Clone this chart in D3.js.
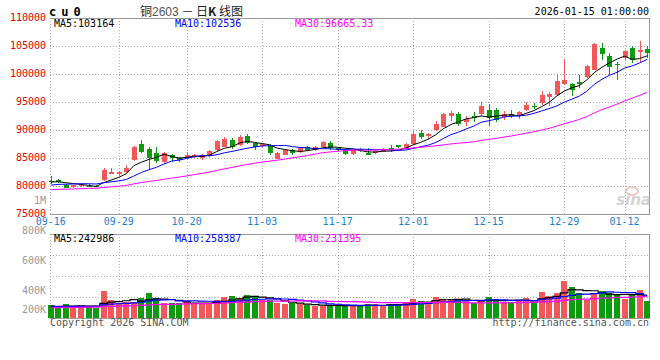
<!DOCTYPE html>
<html>
<head>
<meta charset="utf-8">
<script src="https://cdn.jsdelivr.net/npm/d3@7"></script>
<style>
  body { margin: 0; background: #fff; }
  svg { display: block; }
  text { font-family: 'DejaVu Sans Mono', monospace; font-size: 10px; }
</style>
</head>
<body>
<div id="chart"></div>
<script>
// trading days shown on the chart (MM-DD)
const dates = [
  '09-16', '09-17', '09-18', '09-19', '09-22', '09-23', '09-24', '09-25', '09-26', '09-29',
  '09-30', '10-09', '10-10', '10-13', '10-14', '10-15', '10-16', '10-17', '10-20', '10-21',
  '10-22', '10-23', '10-24', '10-27', '10-28', '10-29', '10-30', '10-31', '11-03', '11-04',
  '11-05', '11-06', '11-07', '11-10', '11-11', '11-12', '11-13', '11-14', '11-17', '11-18',
  '11-19', '11-20', '11-21', '11-24', '11-25', '11-26', '11-27', '11-28', '12-01', '12-02',
  '12-03', '12-04', '12-05', '12-08', '12-09', '12-10', '12-11', '12-12', '12-15', '12-16',
  '12-17', '12-18', '12-19', '12-22', '12-23', '12-24', '12-25', '12-26', '12-29', '12-30',
  '12-31', '01-05', '01-06', '01-07', '01-08', '01-09', '01-12', '01-13', '01-14', '01-15'
];

const opens = [
  80850, 81130, 80180, 79820, 80000, 80050, 80050, 81010, 82200, 82200,
  82440, 84580, 87560, 86660, 85950, 84280, 85590, 84950, 85000, 85180,
  84940, 85300, 86490, 86960, 88270, 87260, 88980, 87680, 87200, 87380,
  84880, 85590, 86490, 86070, 86960, 86370, 86900, 87680, 86840, 86490,
  85650, 86610, 85950, 85950, 86130, 86840, 87320, 86730, 87440, 89520,
  88930, 90000, 90590, 92500, 92790, 91370, 92500, 92910, 93570, 93570,
  92320, 92790, 92740, 93510, 94290, 94820, 95950, 96310, 98210, 98210,
  98570, 99400, 100770, 104640, 103150, 101780, 102850, 104640, 103930, 104520
];
const highs = [
  81700, 81300, 80300, 80200, 80300, 80350, 80200, 83150, 83270, 82600,
  83750, 87140, 88270, 87020, 87020, 86100, 85700, 85200, 86070, 85800,
  85700, 86490, 88150, 88750, 88570, 89160, 89340, 87850, 87560, 87560,
  86010, 86660, 86660, 86900, 87080, 87140, 87970, 87970, 87020, 86600,
  86600, 86840, 86730, 86430, 86840, 87320, 87380, 87740, 89880, 90000,
  89400, 91600, 92970, 93390, 93150, 92560, 93150, 94940, 94640, 93870,
  93390, 93570, 93450, 94940, 94820, 96900, 96790, 99880, 102740, 98390,
  99880, 101660, 105590, 105590, 103750, 102140, 104340, 104940, 105830, 104940
];
const lows = [
  80400, 80500, 79600, 79640, 79900, 79880, 79750, 80950, 82150, 81700,
  82300, 84500, 85900, 82860, 84050, 84050, 84300, 84300, 84800, 85000,
  84640, 85120, 86190, 86900, 86660, 87200, 87560, 86480, 86900, 85470,
  84760, 85470, 85590, 85830, 86190, 86190, 86780, 86490, 86300, 85590,
  85530, 86130, 85470, 85710, 86070, 86130, 86840, 86610, 87320, 88330,
  88390, 89880, 90470, 91600, 90710, 90650, 91490, 92560, 90770, 91370,
  91780, 92080, 91970, 93450, 93810, 94400, 94340, 96190, 98090, 96010,
  97500, 99280, 100650, 102560, 99880, 98990, 102560, 101960, 102140, 102850
];
const closes = [
  80800, 80650, 79640, 80180, 80100, 79950, 79800, 82915, 82560, 82500,
  83270, 86900, 86010, 85060, 84400, 85900, 85000, 84650, 85590, 85530,
  85530, 86190, 87970, 88450, 86960, 88800, 87680, 87020, 87440, 85830,
  85830, 86490, 85950, 86780, 86490, 87020, 87800, 86780, 86490, 85650,
  86430, 86310, 85590, 86250, 86610, 86430, 87020, 87440, 89280, 88810,
  89280, 91010, 92790, 93030, 91070, 92020, 92080, 94340, 92080, 91840,
  92850, 92560, 93210, 94520, 94200, 96310, 96370, 98810, 98990, 97200,
  98270, 101490, 105410, 103570, 101250, 101550, 104160, 102500, 104340, 103690
];
const volumes = [
  206000, 196000, 211000, 202000, 202000, 202000, 196000, 270000, 229000, 214000,
  221000, 221000, 236000, 258000, 236000, 214000, 214000, 214000, 224000, 214000,
  214000, 214000, 229000, 243000, 246000, 239000, 251000, 246000, 229000, 229000,
  214000, 211000, 214000, 211000, 206000, 202000, 202000, 208000, 209000, 202000,
  202000, 202000, 211000, 211000, 202000, 211000, 211000, 214000, 233000, 224000,
  220000, 242000, 233000, 233000, 233000, 224000, 214000, 224000, 242000, 233000,
  220000, 220000, 229000, 237000, 220000, 265000, 246000, 260000, 314000, 288000,
  261000, 229000, 258000, 270000, 258000, 251000, 234000, 251000, 273000, 225000
];

// the 29 sessions before 09-16 (estimated), only used to seed the moving averages
const earlierCloses = [
  78500, 78800, 79100, 78700, 78400, 78650, 79000, 79300, 79150, 78900,
  78600, 78850, 79200, 79450, 79100, 78800, 79050, 79300, 79000, 78650,
  79200, 79450, 79700, 79650, 80000, 80300, 80600, 80900, 80900
];
const earlierVolumes = [
  188000, 195000, 192000, 199000, 186000, 194000, 190000, 197000, 193000, 189000,
  196000, 191000, 198000, 194000, 190000, 195000, 192000, 188000, 196000, 193000,
  204000, 208000, 201000, 206000, 205000, 195000, 199000, 198000, 197000
];

const priceTicks = [110000, 105000, 100000, 95000, 90000, 85000, 80000, 75000];
const volumeTicks = [1000000, 800000, 600000, 400000, 200000];
const dateTicks = ['09-16', '09-29', '10-20', '11-03', '11-17', '12-01', '12-15', '12-29', '01-12'];
const maPeriods = [5, 10, 30];
const priceLegend = ['MA5:103164', 'MA10:102536', 'MA30:96665.33'];
const volumeLegend = ['MA5:242986', 'MA10:258387', 'MA30:231395'];

const W = 660, H = 360;
const left = 50, right = 649.5;
const priceTop = 18, priceBottom = 214;
const volTop = 234, volBottom = 318;
const upColor = '#f45757', downColor = '#0b9b0b';
const maColors = ['#000000', '#0000ff', '#ff00ff'];
const gridColor = '#aaaaaa', frameColor = '#999999';

function movingAverage(values, earlier, n) {
  let all = earlier.concat(values);
  return values.map((v, i) => {
    let end = i + earlier.length + 1;
    return d3.mean(all.slice(end - n, end));
  });
}

let svg = d3.select('#chart').append('svg')
  .attr('width', W)
  .attr('height', H);

let x = d3.scaleBand().domain(dates).range([47, 651]);
let cx = d => x(d) + x.bandwidth() / 2;
let y = d3.scaleLinear().domain([75000, 110000]).range([priceBottom, priceTop]);
let yVol = d3.scaleLinear().domain([150000, 520000]).range([volBottom, volTop]);
let volRows = d3.scaleLinear().domain([0, 4]).range([volBottom, volTop]);
// sina positions the volume labels on their own spacing, the lowest one clamped into the panel
let volLabelY = d3.scaleLinear().domain([0, 1000000]).range([350, 201]);

let candles = dates.map((d, i) => ({
  date: d, open: opens[i], high: highs[i], low: lows[i], close: closes[i], volume: volumes[i]
}));
let colorOf = c => c.close >= c.open ? upColor : downColor;

// grid
let grid = svg.append('g')
  .attr('stroke', gridColor)
  .attr('stroke-dasharray', '1 2')
  .attr('shape-rendering', 'crispEdges');

grid.selectAll('line.hp')
  .data(priceTicks.slice(1, -1))
  .enter().append('line')
  .attr('x1', left).attr('x2', right)
  .attr('y1', d => Math.round(y(d)) + 0.5).attr('y2', d => Math.round(y(d)) + 0.5);

grid.selectAll('line.hv')
  .data([1, 2, 3])
  .enter().append('line')
  .attr('x1', left).attr('x2', right)
  .attr('y1', d => Math.round(volRows(d)) + 0.5).attr('y2', d => Math.round(volRows(d)) + 0.5);

[[priceTop, priceBottom], [volTop, volBottom]].forEach(([t, b]) => {
  grid.selectAll(null)
    .data(dateTicks.slice(1))
    .enter().append('line')
    .attr('x1', d => Math.round(cx(d)) + 0.5).attr('x2', d => Math.round(cx(d)) + 0.5)
    .attr('y1', t).attr('y2', b);
  grid.append('line')
    .attr('x1', left + 0.5).attr('x2', left + 0.5)
    .attr('y1', t).attr('y2', b);
});

// frames (top, right, bottom solid)
let frame = svg.append('g')
  .attr('stroke', frameColor)
  .attr('fill', 'none')
  .attr('shape-rendering', 'crispEdges');
[[priceTop, priceBottom], [volTop, volBottom]].forEach(([t, b]) => {
  frame.append('path')
    .attr('d', `M${left},${t + 0.5}H${right}V${b + 0.5}H${left}`);
});

// watermark
let mark = svg.append('g').attr('opacity', 0.55);
mark.append('ellipse')
  .attr('cx', 632).attr('cy', 191).attr('rx', 6).attr('ry', 4)
  .attr('fill', 'none').attr('stroke', '#e8a0a0').attr('stroke-width', 2);
mark.append('text')
  .attr('x', 651).attr('y', 205)
  .attr('text-anchor', 'end')
  .attr('fill', '#b0b0b0')
  .style('font-family', 'DejaVu Sans')
  .style('font-size', '15px')
  .style('font-weight', 'bold')
  .style('font-style', 'italic')
  .text('sina');

// candles
let candleG = svg.append('g').attr('shape-rendering', 'crispEdges');
let candleEls = candleG.selectAll('g.candle')
  .data(candles)
  .enter().append('g')
  .classed('candle', true);

candleEls.append('line')
  .attr('x1', d => Math.round(cx(d.date)) + 0.5)
  .attr('x2', d => Math.round(cx(d.date)) + 0.5)
  .attr('y1', d => y(d.high))
  .attr('y2', d => y(d.low))
  .attr('stroke', colorOf);

candleEls.append('rect')
  .attr('x', d => Math.round(cx(d.date)) - 2)
  .attr('width', 5)
  .attr('y', d => y(Math.max(d.open, d.close)))
  .attr('height', d => Math.max(1, Math.abs(y(d.open) - y(d.close))))
  .attr('fill', colorOf);

// volume bars
svg.append('g')
  .attr('shape-rendering', 'crispEdges')
  .selectAll('rect')
  .data(candles)
  .enter().append('rect')
  .attr('x', d => Math.round(cx(d.date)) - 3)
  .attr('width', 6)
  .attr('y', d => yVol(d.volume))
  .attr('height', d => volBottom - yVol(d.volume))
  .attr('fill', colorOf);

// moving averages
maPeriods.forEach((n, k) => {
  let priceMa = movingAverage(closes, earlierCloses, n);
  let volMa = movingAverage(volumes, earlierVolumes, n);

  svg.append('path')
    .datum(priceMa)
    .attr('fill', 'none')
    .attr('stroke', maColors[k])
    .attr('stroke-width', 1)
    .attr('d', d3.line()
      .x((v, i) => cx(dates[i]))
      .y(v => y(v)));

  svg.append('path')
    .datum(volMa)
    .attr('fill', 'none')
    .attr('stroke', maColors[k])
    .attr('stroke-width', 1.2)
    .attr('d', d3.line()
      .x((v, i) => cx(dates[i]))
      .y(v => yVol(v))
      .curve(d3.curveStep));
});

// legends
let legendX = [54, 175, 295];
priceLegend.forEach((t, k) => {
  svg.append('text').attr('x', legendX[k]).attr('y', 27).attr('fill', maColors[k]).text(t);
});
volumeLegend.forEach((t, k) => {
  svg.append('text').attr('x', legendX[k]).attr('y', 242).attr('fill', maColors[k]).text(t);
});

// price axis labels
svg.append('g')
  .selectAll('text')
  .data(priceTicks)
  .enter().append('text')
  .attr('x', 46)
  .attr('y', d => y(d))
  .attr('dy', '0.32em')
  .attr('text-anchor', 'end')
  .attr('fill', '#e00000')
  .text(d => d);

// volume axis labels
let volFormat = v => v >= 1000000 ? `${v / 1000000}M` : `${v / 1000}K`;
svg.append('g')
  .selectAll('text')
  .data(volumeTicks)
  .enter().append('text')
  .attr('x', 46)
  .attr('y', d => Math.min(volLabelY(d), volBottom - 8))
  .attr('dy', '0.32em')
  .attr('text-anchor', 'end')
  .attr('fill', '#999999')
  .text(volFormat);

// date labels
svg.append('g')
  .selectAll('text')
  .data(dateTicks)
  .enter().append('text')
  .attr('x', d => cx(d))
  .attr('y', 225)
  .attr('text-anchor', 'middle')
  .attr('fill', '#1a7fd0')
  .text(d => d);

// header
svg.append('text')
  .attr('x', 49).attr('y', 16)
  .style('font-size', '12px')
  .style('font-weight', 'bold')
  .style('letter-spacing', '5px')
  .text('cu0');

let title = svg.append('text')
  .attr('x', 140).attr('y', 16)
  .style('font-family', "'Noto Sans CJK SC', sans-serif")
  .style('font-size', '12px')
  .attr('fill', '#222');
title.append('tspan').text('铜');
title.append('tspan').attr('fill', '#555').style('font-family', 'Liberation Sans').text('2603');
title.append('tspan').text(' － 日');
title.append('tspan').style('font-weight', 'bold').text('K');
title.append('tspan').text(' 线图');

svg.append('text')
  .attr('x', 649).attr('y', 15)
  .attr('text-anchor', 'end')
  .text('2026-01-15 01:00:00');

// footer
svg.append('text')
  .attr('x', 50).attr('y', 326)
  .attr('fill', '#555')
  .text('Copyright 2026 SINA.COM');
svg.append('text')
  .attr('x', 649).attr('y', 326)
  .attr('text-anchor', 'end')
  .attr('fill', '#555')
  .text('http://finance.sina.com.cn');
</script>
</body>
</html>
